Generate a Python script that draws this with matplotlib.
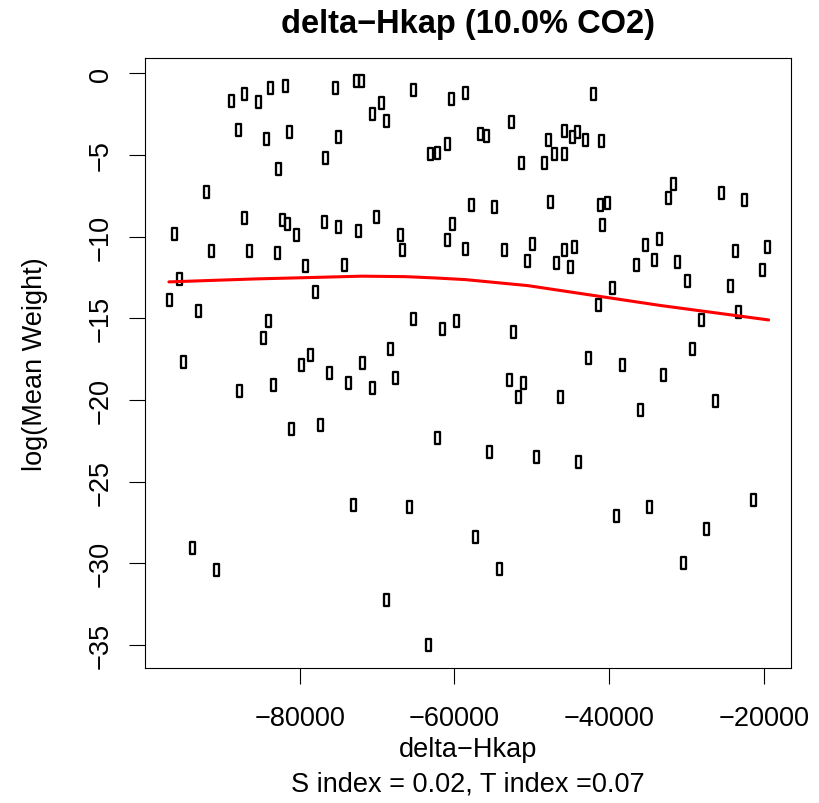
import matplotlib
matplotlib.use("Agg")
import matplotlib.pyplot as plt
from matplotlib.path import Path

plt.rcParams['font.family'] = ['Liberation Sans', 'DejaVu Sans']

# ---- data ----
x_vals = [-88900, -87200, -85400, -83800, -81900, -75500, -72700, -72100, -69500, -70600,
          -68800, -65300, -60500, -58600, -88000, -84300, -81400, -75000, -76700, -82800,
          -63200, -62300, -60900, -92100, -87200, -82300, -81700, -80500, -76800, -75000,
          -72500, -70100, -67000, -60300, -61000, -57900, -96300, -91400, -86600, -82900,
          -66800, -42100, -52700, -56700, -55900, -47900, -45800, -44800, -44100, -43100,
          -41100, -47200, -45800, -51400, -48400, -31700, -32400, -25600, -22600, -54900,
          -47600, -41200, -40300, -40900, -58700, -53600, -50000, -45800, -44600, -35400,
          -33600, -23800, -19600, -79300, -74300, -95600, -78000, -96900, -93200, -84100,
          -65300, -61600, -59800, -84700, -68300, -95100, -78700, -79800, -72000, -76200,
          -73700, -70700, -67700, -87900, -83500, -81100, -77400, -62200, -50600, -46900,
          -45100, -36600, -34200, -31200, -29900, -20200, -24400, -39700, -41500, -28100,
          -23300, -52400, -29300, -42700, -38400, -33000, -53000, -51200, -51800, -46300,
          -26300, -36000, -55500, -49400, -93900, -90800, -73100, -65900, -68900, -63400,
          -44000, -39100, -34800, -21400, -27500, -57300, -54300, -30500]
y_vals = [-1.71, -1.28, -1.77, -0.88, -0.78, -0.88, -0.45, -0.45, -1.80, -2.49,
          -2.92, -1.04, -1.55, -1.19, -3.45, -4.00, -3.57, -3.92, -5.18, -5.84,
          -4.96, -4.90, -4.31, -7.26, -8.84, -8.99, -9.20, -9.88, -9.10, -9.40,
          -9.67, -8.79, -9.88, -9.24, -10.20, -8.08, -9.81, -10.87, -10.87, -11.03,
          -10.84, -1.25, -2.98, -3.73, -3.84, -4.10, -3.55, -3.90, -3.59, -4.10,
          -4.14, -4.92, -4.96, -5.47, -5.47, -6.76, -7.61, -7.31, -7.77, -8.18,
          -7.88, -8.04, -7.94, -9.30, -10.75, -10.81, -10.44, -10.81, -10.63, -10.54,
          -10.14, -10.87, -10.63, -11.81, -11.71, -12.59, -13.36, -13.87, -14.53, -15.14,
          -15.03, -15.65, -15.14, -16.21, -16.87, -17.68, -17.24, -17.85, -17.73, -18.34,
          -18.97, -19.26, -18.66, -19.42, -19.07, -21.76, -21.52, -22.32, -11.47, -11.59,
          -11.87, -11.71, -11.42, -11.56, -12.69, -12.04, -13.00, -13.16, -14.16, -15.10,
          -14.61, -15.85, -16.87, -17.44, -17.83, -18.44, -18.75, -18.97, -19.79, -19.82,
          -20.07, -20.64, -23.17, -23.48, -29.06, -30.43, -26.40, -26.52, -32.23, -35.02,
          -23.80, -27.07, -26.54, -26.09, -27.88, -28.37, -30.33, -29.95]

smooth_x = [-96900, -85800, -76700, -72000, -66300, -62500, -58600, -50500, -41900, -33300, -24600, -19400]
smooth_y = [-12.77, -12.59, -12.48, -12.42, -12.45, -12.53, -12.63, -13.00, -13.61, -14.22, -14.77, -15.10]

x_ticks = [-80000, -60000, -40000, -20000]
x_tick_labels = ["\u221280000", "\u221260000", "\u221240000", "\u221220000"]
y_ticks = [0, -5, -10, -15, -20, -25, -30, -35]
y_tick_labels = ["0", "\u22125", "\u221210", "\u221215", "\u221220", "\u221225", "\u221230", "\u221235"]

title = "delta\u2212Hkap (10.0% CO2)"
xlabel = "delta\u2212Hkap"
ylabel = "log(Mean Weight)"
subtitle = "S index = 0.02, T index =0.07"

# ---- figure ----
W, H = 820, 804
fig = plt.figure(figsize=(W / 100, H / 100), dpi=100)
L, R, T, B = 145, 791, 59, 669
ax = fig.add_axes([L / W, 1 - B / H, (R - L) / W, (B - T) / H])

rect = Path([(-0.4, -1), (0.4, -1), (0.4, 1), (-0.4, 1), (-0.4, -1)],
            [Path.MOVETO, Path.LINETO, Path.LINETO, Path.LINETO, Path.CLOSEPOLY])
ax.plot(x_vals, y_vals, linestyle='none', marker=rect, markersize=9,
        markerfacecolor='none', markeredgecolor='black', markeredgewidth=1.65, zorder=2)
ax.plot(smooth_x, smooth_y, color='red', lw=2.2, zorder=3, solid_capstyle='round')

xr = max(x_vals) - min(x_vals)
ax.set_xlim(min(x_vals) - 0.04 * xr, max(x_vals) + 0.04 * xr)
yr = max(y_vals) - min(y_vals)
ax.set_ylim(min(y_vals) - 0.04 * yr, max(y_vals) + 0.04 * yr)

ax.set_xticks(x_ticks)
ax.set_xticklabels(x_tick_labels, fontsize=19.5)
ax.set_yticks(y_ticks)
ax.set_yticklabels(y_tick_labels, fontsize=19.5, rotation=90, va='center')
ax.tick_params(axis='both', length=11.5, width=0.8, color='black', direction='out')
ax.tick_params(axis='x', pad=15.5)
ax.tick_params(axis='y', pad=11)
for s in ax.spines.values():
    s.set_linewidth(0.8)
    s.set_color('black')

fig.text((L + R) / 2 / W, 1 - 24 / H, title, ha='center', va='center',
         fontsize=23.5, fontweight='bold')
fig.text((L + R) / 2 / W, 1 - 750 / H, xlabel, ha='center', va='center', fontsize=19.5)
fig.text((L + R) / 2 / W, 1 - 785 / H, subtitle, ha='center', va='center', fontsize=19.5)
fig.text(35 / W, 1 - (T + B) / 2 / H, ylabel, ha='center', va='center',
         rotation=90, fontsize=19.5)

fig.savefig("out.png", dpi=100)
